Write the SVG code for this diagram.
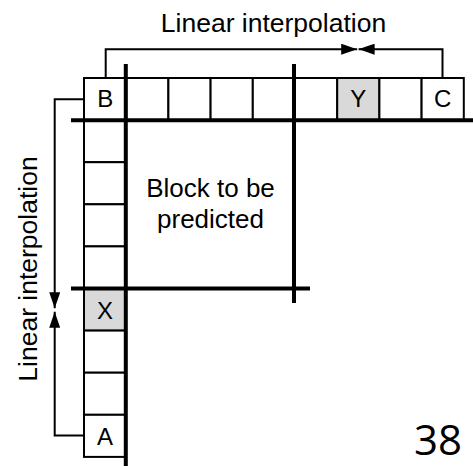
<svg xmlns="http://www.w3.org/2000/svg" width="473" height="466" viewBox="0 0 473 466">
<defs>
<style>
.cell{fill:#ffffff;stroke:#000000;stroke-width:2}
.grey{fill:#d9d9d9;stroke:#000000;stroke-width:2}
.thick{stroke:#000000;stroke-width:4;fill:none}
.conn{stroke:#000000;stroke-width:2;fill:none}
.lbl{font-family:"Liberation Sans",Arial,sans-serif;font-size:24px;fill:#000000;text-anchor:middle}
.title{font-family:"Liberation Sans",Arial,sans-serif;font-size:26.5px;fill:#000000;text-anchor:middle}
.block{font-family:"Liberation Sans",Arial,sans-serif;font-size:26px;fill:#000000;text-anchor:middle}
.page{font-family:"Open Sans","Noto Sans",sans-serif;font-size:42px;fill:#000000}
</style>
<marker id="ah" markerUnits="userSpaceOnUse" markerWidth="16" markerHeight="11" refX="16" refY="5.5" orient="auto" viewBox="0 0 16 11">
<polygon points="0,0 16,5.5 0,11" fill="#000000"/>
</marker>
</defs>
<rect width="473" height="466" fill="#ffffff"/>
<g id="top-row">
<g id="cell-B"><rect class="cell" x="84" y="78" width="42.2" height="42"/><text class="lbl" x="105.2" y="107">B</text></g>
<g id="cell-t1"><rect class="cell" x="126.2" y="78" width="42.2" height="42"/></g>
<g id="cell-t2"><rect class="cell" x="168.4" y="78" width="42.2" height="42"/></g>
<g id="cell-t3"><rect class="cell" x="210.6" y="78" width="42.2" height="42"/></g>
<g id="cell-t4"><rect class="cell" x="252.8" y="78" width="42.2" height="42"/></g>
<g id="cell-t5"><rect class="cell" x="295" y="78" width="42.2" height="42"/></g>
<g id="cell-Y"><rect class="grey" x="337.2" y="78" width="42.2" height="42"/><text class="lbl" x="358.3" y="107">Y</text></g>
<g id="cell-t7"><rect class="cell" x="379.4" y="78" width="42.2" height="42"/></g>
<g id="cell-C"><rect class="cell" x="421.6" y="78" width="42.2" height="42"/><text class="lbl" x="442.7" y="107">C</text></g>
</g>
<g id="left-column">
<g id="cell-l1"><rect class="cell" x="84" y="120.1" width="42" height="42.1"/></g>
<g id="cell-l2"><rect class="cell" x="84" y="162.2" width="42" height="42.1"/></g>
<g id="cell-l3"><rect class="cell" x="84" y="204.3" width="42" height="42.1"/></g>
<g id="cell-l4"><rect class="cell" x="84" y="246.4" width="42" height="42.1"/></g>
<g id="cell-X"><rect class="grey" x="84" y="288.5" width="42" height="42.1"/><text class="lbl" x="105" y="318.5">X</text></g>
<g id="cell-l6"><rect class="cell" x="84" y="330.6" width="42" height="42.1"/></g>
<g id="cell-l7"><rect class="cell" x="84" y="372.7" width="42" height="42.1"/></g>
<g id="cell-A"><rect class="cell" x="84" y="414.8" width="42" height="42.1"/><text class="lbl" x="105" y="444.5">A</text></g>
</g>
<g id="block">
<line class="thick" x1="71" y1="120.2" x2="473" y2="120.2"/>
<line class="thick" x1="125.8" y1="64" x2="125.8" y2="466"/>
<line class="thick" x1="294" y1="64" x2="294" y2="303"/>
<line class="thick" x1="71" y1="288.5" x2="310" y2="288.5"/>
<text class="block" x="210.5" y="197">Block to be</text>
<text class="block" x="210.5" y="228.3">predicted</text>
</g>
<g id="connectors">
<path class="conn" d="M105.7,78 V49.2 H357.2" marker-end="url(#ah)"/>
<path class="conn" d="M442.5,78 V49.2 H358.6" marker-end="url(#ah)"/>
<path class="conn" d="M84,99.3 H54.7 V308.3" marker-end="url(#ah)"/>
<path class="conn" d="M84,435.6 H54.7 V311.8" marker-end="url(#ah)"/>
</g>
<text class="title" x="273.5" y="32.3">Linear interpolation</text>
<text class="title" transform="translate(37.3,269) rotate(-90)" x="0" y="0">Linear interpolation</text>
<text class="page" x="414" y="455">38</text>
</svg>
